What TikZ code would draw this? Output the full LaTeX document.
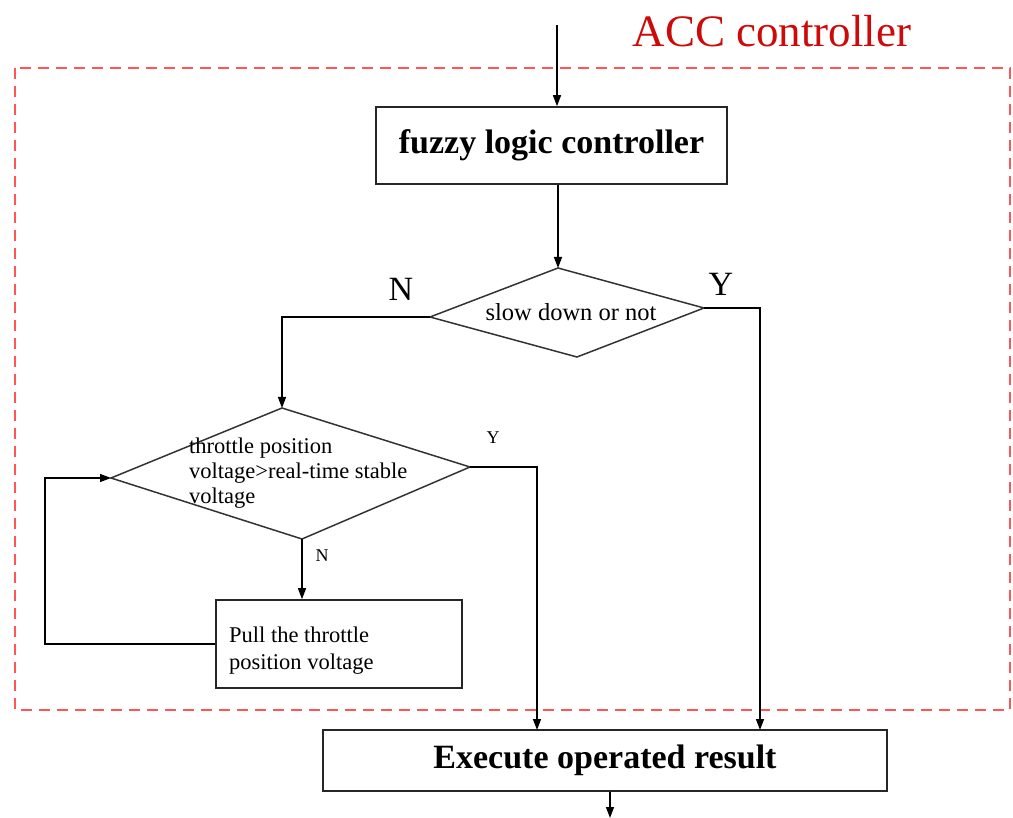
\documentclass[tikz,border=0pt]{standalone}
\usepackage{fontspec}
\setmainfont{Liberation Serif}
\usetikzlibrary{arrows.meta}
\definecolor{dashred}{RGB}{255,85,85}
\definecolor{accred}{RGB}{205,10,10}
\tikzset{
  boxnode/.style={draw=black!85, line width=1.6pt, inner sep=0pt},
  shapeline/.style={draw=black!80, line width=1.5pt},
  arr/.style={line width=1.4pt, -{Triangle[length=11pt,width=8pt]}},
  bigtxt/.style={font=\fontsize{34}{38}\selectfont\bfseries},
  midtxt/.style={font=\fontsize{22.5}{25}\selectfont, align=left, inner sep=0pt},
  lbl/.style={font=\fontsize{34}{38}\selectfont, inner sep=0pt},
  smalllbl/.style={font=\fontsize{18}{20}\selectfont, inner sep=0pt},
}
\begin{document}
\begin{tikzpicture}[x=1pt,y=-1pt]
\useasboundingbox (0,0) rectangle (1013,818);
% dashed controller frame
\draw[dashred, line width=2pt, dash pattern=on 11pt off 7pt] (15,68) rectangle (1010,710);
\node[text=accred, font=\fontsize{45}{48}\selectfont, inner sep=0pt] (acc) at (772,31) {ACC controller};

% fuzzy logic controller
\node[boxnode, minimum width=351pt, minimum height=77pt, bigtxt] (flc) at (551.5,145.5) {fuzzy logic controller};
\coordinate (in) at (557,25);
\draw[arr] (in) -- (in |- flc.north);

% decision 1
\coordinate (d1t) at (558,268);
\coordinate (d1r) at (704,308);
\coordinate (d1b) at (577,357);
\coordinate (d1l) at (430,317);
\draw[shapeline] (d1t) -- (d1r) -- (d1b) -- (d1l) -- cycle;
\node[font=\fontsize{24.5}{27}\selectfont, inner sep=0pt] (d1txt) at (571,312) {slow down or not};
\draw[arr] (flc.south -| d1t) -- (d1t);
\node[lbl] (n1) at (401,289) {N};
\node[lbl] (y1) at (721,284) {Y};

% decision 2
\coordinate (d2t) at (282,408);
\coordinate (d2r) at (470,467);
\coordinate (d2b) at (302,539);
\coordinate (d2l) at (111,478);
\draw[shapeline] (d2t) -- (d2r) -- (d2b) -- (d2l) -- cycle;
\node[midtxt, anchor=west] (d2txt) at (189,473) {throttle position\\voltage>real-time stable\\voltage};
\node[smalllbl] (y2) at (493,438) {Y};
\node[smalllbl] (n2) at (322,556) {N};

\draw[arr] (d1l) -| (d2t);

% pull box
\node[boxnode, minimum width=246pt, minimum height=88pt] (pull) at (339,644) {};
\node[midtxt, anchor=west, font=\fontsize{22.5}{27}\selectfont] (pulltxt) at (229,651) {Pull the throttle\\position voltage};
\draw[arr] (d2b) -- (d2b |- pull.north);
\coordinate (loop) at (45,644);
\draw[arr] (pull.west) -- (loop) |- (d2l);

% execute box
\node[boxnode, minimum width=564pt, minimum height=61pt, bigtxt] (exec) at (605,760.5) {Execute operated result};
\coordinate (ex1) at (537,730);
\coordinate (ex2) at (760,730);
\draw[arr] (d2r) -| (ex1);
\draw[arr] (d1r) -| (ex2);
\coordinate (out) at (610,818);
\draw[arr] (exec.south -| out) -- (out);
\end{tikzpicture}
\end{document}
